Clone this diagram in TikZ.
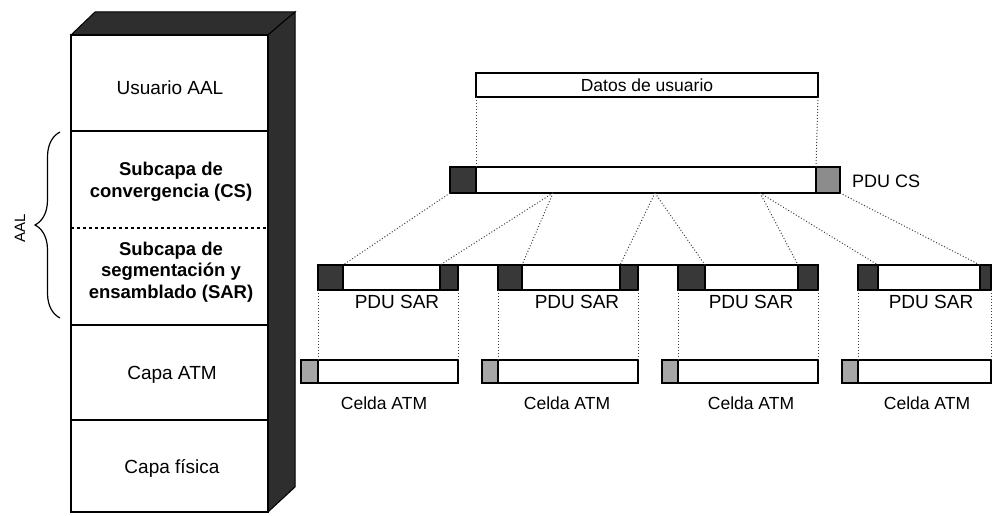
\documentclass[tikz,border=0pt]{standalone}
\usepackage{fontspec}
\setmainfont{Liberation Sans}
\usetikzlibrary{decorations.pathreplacing}
\newcommand\rbox[7]{\node[#1, minimum width={(#5-#3)*1pt}, minimum height={(#6-#4)*1pt}] (#2) at ({(#3+#5)/2},{(#4+#6)/2}) {#7};}
\begin{document}
\begin{tikzpicture}[x=1pt,y=-1pt,
  lbl/.style={font=\fontsize{19}{21.5}\selectfont, inner sep=0pt, align=center},
  blbl/.style={font=\bfseries\fontsize{18.5}{21.5}\selectfont, inner sep=0pt, align=center},
  sarlbl/.style={font=\fontsize{19}{21}\selectfont, inner sep=0pt},
  cslbl/.style={font=\fontsize{18}{21}\selectfont, inner sep=0pt},
  cellbl/.style={font=\fontsize{17.5}{21}\selectfont, inner sep=0pt},
  layer/.style={inner sep=0pt, outer sep=0pt},
  bar/.style={draw, line width=1.3pt, fill=white, inner sep=0pt, outer sep=0pt, font=\fontsize{17.5}{20}\selectfont},
  hdr/.style={draw, line width=1.3pt, fill=black!78, inner sep=0pt, outer sep=0pt},
  trl/.style={draw, line width=1.3pt, fill=black!45, inner sep=0pt, outer sep=0pt},
  chdr/.style={draw, line width=1.3pt, fill=black!35, inner sep=0pt, outer sep=0pt},
  dots/.style={dotted, line width=1pt, black!75},
  side/.style={fill=black!82, draw=black, line width=1pt}]
\useasboundingbox (0,0) rectangle (992,516);
% --- protocol stack ---
\rbox{layer}{usu}{71}{35}{268}{131}{}
\rbox{layer}{cs}{71}{131}{268}{228}{}
\rbox{layer}{sar}{71}{228}{268}{325}{}
\rbox{layer}{atm}{71}{325}{268}{420}{}
\rbox{layer}{fis}{71}{420}{268}{512}{}
\path[side] (usu.north west) -- (95,12) -- (295,12) -- (usu.north east) -- cycle;
\path[side] (usu.north east) -- (295,12) -- (295,487) -- (fis.south east) -- cycle;
\draw[line width=1.5pt] (usu.north west) rectangle (fis.south east);
\draw[line width=1.5pt] (usu.south west) -- (usu.south east);
\draw[line width=1.3pt, dashed] (cs.south west) -- (cs.south east);
\draw[line width=1.5pt] (sar.south west) -- (sar.south east);
\draw[line width=1.5pt] (atm.south west) -- (atm.south east);
\node[lbl] (tusu) at (170,88) {Usuario AAL};
\node[blbl] (tcs) at (171,182) {Subcapa de\\convergencia (CS)};
\node[blbl] (tsar) at (171,272) {Subcapa de\\segmentación y\\ensamblado (SAR)};
\node[lbl] (tatm) at (172,375) {Capa ATM};
\node[lbl] (tfis) at (172,468) {Capa física};
\coordinate (bt) at (60,132);
\coordinate (bb) at (60,318);
\draw[decorate, decoration={brace, amplitude=25pt}, line width=1.2pt] (bb) -- (bt);
\node[font=\fontsize{15}{17}\selectfont, rotate=90, inner sep=0pt] (aal) at (20,228) {AAL};
% --- user data and CS PDU ---
\rbox{bar}{datos}{476}{73}{818}{97}{Datos de usuario}
\rbox{hdr}{cshdr}{450}{167}{476}{193}{}
\rbox{bar}{csb}{476}{167}{816}{193}{}
\rbox{trl}{cstrl}{816}{167}{840}{193}{}
\node[cslbl, anchor=west] (pducs) at (852,181) {PDU CS};
\draw[dots] (datos.south west) -- (csb.north west);
\draw[dots] (datos.south east) -- (csb.north east);
% --- SAR PDUs ---
\rbox{hdr}{s1h}{318}{265}{343}{290}{}
\rbox{bar}{s1b}{343}{265}{440}{290}{}
\rbox{hdr}{s1t}{440}{265}{458}{290}{}
\rbox{hdr}{s2h}{498}{265}{522}{290}{}
\rbox{bar}{s2b}{522}{265}{620}{290}{}
\rbox{hdr}{s2t}{620}{265}{638}{290}{}
\rbox{hdr}{s3h}{678}{265}{705}{290}{}
\rbox{bar}{s3b}{705}{265}{798}{290}{}
\rbox{hdr}{s3t}{798}{265}{818}{290}{}
\rbox{hdr}{s4h}{858}{265}{878}{290}{}
\rbox{bar}{s4b}{878}{265}{980}{290}{}
\rbox{hdr}{s4t}{980}{265}{991}{290}{}
\draw[line width=1.3pt] (s1t.north east) -- (s2h.north west);
\draw[line width=1.3pt] (s2t.north east) -- (s3h.north west);
\node[sarlbl] (ps1) at (397,302) {PDU SAR};
\node[sarlbl] (ps2) at (577,302) {PDU SAR};
\node[sarlbl] (ps3) at (751,302) {PDU SAR};
\node[sarlbl] (ps4) at (931,302) {PDU SAR};
\coordinate (k1) at (553,193);
\coordinate (k2) at (655,193);
\coordinate (k3) at (760,193);
\draw[dots] (cshdr.south west) -- (s1b.north west);
\draw[dots] (k1) -- (s1b.north east);
\draw[dots] (k1) -- (s2b.north west);
\draw[dots] (k2) -- (s2b.north east);
\draw[dots] (k2) -- (s3b.north west);
\draw[dots] (k3) -- (s3b.north east);
\draw[dots] (k3) -- (s4b.north west);
\draw[dots] (cstrl.south east) -- (s4b.north east);
% --- ATM cells ---
\rbox{chdr}{c1h}{301}{360}{318}{383}{}
\rbox{bar}{c1b}{318}{360}{458}{383}{}
\rbox{chdr}{c2h}{482}{360}{498}{383}{}
\rbox{bar}{c2b}{498}{360}{638}{383}{}
\rbox{chdr}{c3h}{662}{360}{678}{383}{}
\rbox{bar}{c3b}{678}{360}{818}{383}{}
\rbox{chdr}{c4h}{842}{360}{858}{383}{}
\rbox{bar}{c4b}{858}{360}{991}{383}{}
\draw[dots] (s1h.south west) -- (c1b.north west);
\draw[dots] (s1t.south east) -- (c1b.north east);
\draw[dots] (s2h.south west) -- (c2b.north west);
\draw[dots] (s2t.south east) -- (c2b.north east);
\draw[dots] (s3h.south west) -- (c3b.north west);
\draw[dots] (s3t.south east) -- (c3b.north east);
\draw[dots] (s4h.south west) -- (c4b.north west);
\draw[dots] (s4t.south east) -- (c4b.north east);
\node[cellbl] (ca1) at (384,403) {Celda ATM};
\node[cellbl] (ca2) at (567,403) {Celda ATM};
\node[cellbl] (ca3) at (751,403) {Celda ATM};
\node[cellbl] (ca4) at (927,403) {Celda ATM};
\end{tikzpicture}
\end{document}
